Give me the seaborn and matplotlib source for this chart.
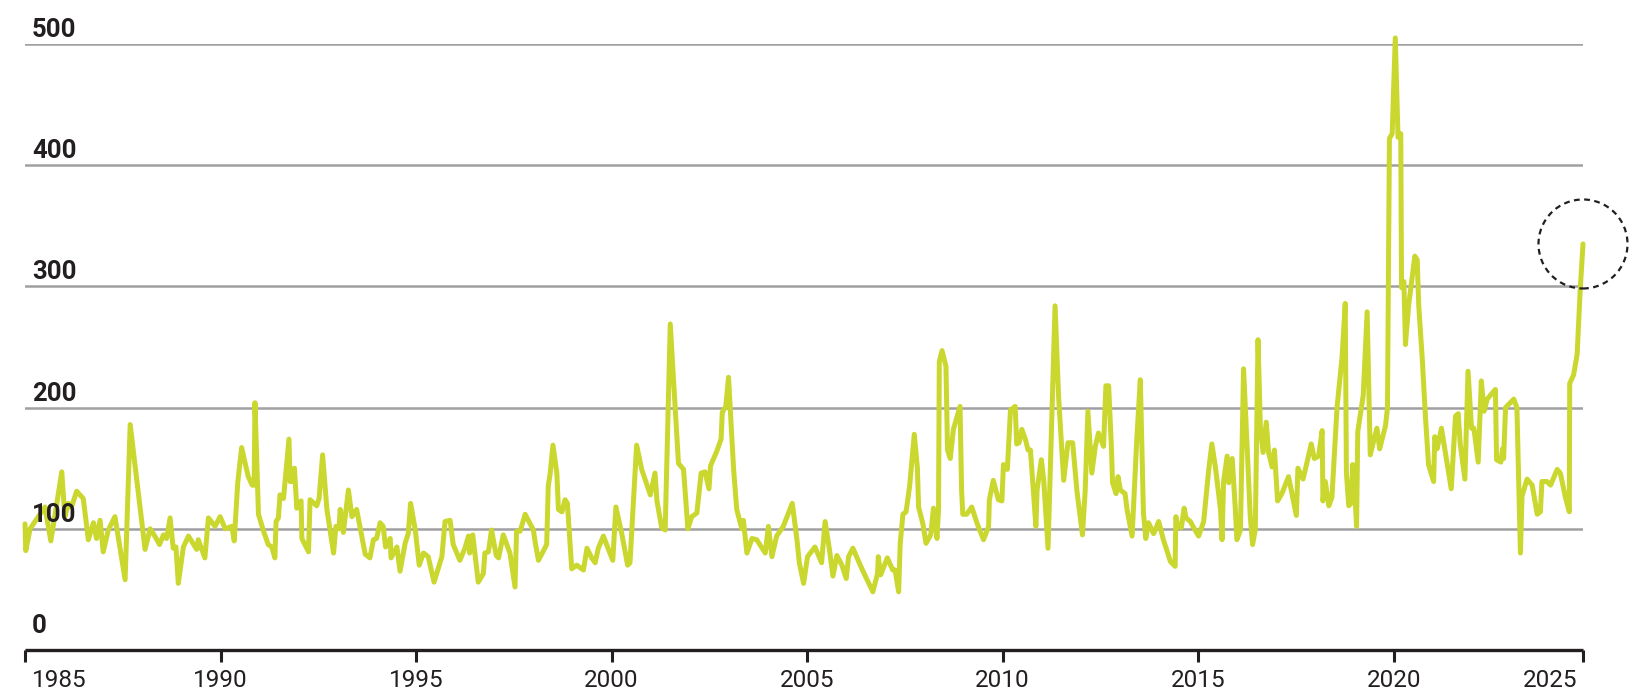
import matplotlib
matplotlib.use("Agg")
import matplotlib.pyplot as plt
from matplotlib.patches import Circle
from matplotlib.transforms import ScaledTranslation
import numpy as np
import pandas as pd
import seaborn as sns

# values, (decimal year, value) at visible vertices
t_85 = [1985.00, 1985.02, 1985.13, 1985.51, 1985.66, 1985.77, 1985.94, 1986.02, 1986.11, 1986.19,
        1986.32, 1986.49, 1986.62, 1986.75, 1986.83, 1986.92, 1987.00, 1987.13, 1987.30, 1987.56,
        1987.69, 1988.07, 1988.20, 1988.32, 1988.44, 1988.54, 1988.62, 1988.71, 1988.79, 1988.86,
        1988.92, 1989.05, 1989.18, 1989.39, 1989.43, 1989.60, 1989.69, 1989.86]
v_85 = [104, 82, 100, 118, 90, 112, 147, 110, 121, 118,
        131, 125, 91, 105, 92, 107, 81, 99, 110, 58,
        186, 83, 100, 94, 87, 95, 92, 109, 84, 85,
        55, 85, 94, 83, 91, 76, 109, 102]

t_90 = [1989.99, 1990.12, 1990.29, 1990.35, 1990.44, 1990.54, 1990.63, 1990.71, 1990.81, 1990.86,
        1990.88, 1990.97, 1991.10, 1991.22, 1991.31, 1991.39, 1991.42, 1991.48, 1991.52, 1991.61,
        1991.75, 1991.78, 1991.84, 1991.89, 1991.95, 1992.06, 1992.08, 1992.25, 1992.29, 1992.46,
        1992.52, 1992.61, 1992.72, 1992.89, 1992.95, 1993.03, 1993.06, 1993.14, 1993.27, 1993.36,
        1993.48, 1993.70, 1993.82, 1993.91, 1993.99, 1994.08, 1994.16, 1994.22, 1994.34, 1994.36,
        1994.51, 1994.59, 1994.72, 1994.80, 1994.86]
v_90 = [110, 100, 102, 90, 138, 167, 154, 143, 136, 136,
        204, 112, 98, 87, 85, 76, 106, 109, 128, 125,
        174, 139, 139, 150, 117, 123, 92, 81, 124, 119,
        125, 161, 116, 80, 102, 100, 116, 97, 132, 110,
        116, 79, 76, 91, 92, 105, 102, 85, 92, 76,
        85, 65, 88, 96, 121]

t_95 = [1994.98, 1995.08, 1995.19, 1995.31, 1995.46, 1995.66, 1995.74, 1995.87, 1995.95, 1996.12,
        1996.25, 1996.34, 1996.37, 1996.45, 1996.59, 1996.72, 1996.76, 1996.85, 1996.93, 1997.05,
        1997.11, 1997.23, 1997.40, 1997.53, 1997.57, 1997.66, 1997.79, 1998.00, 1998.04, 1998.13,
        1998.34, 1998.38, 1998.43, 1998.50, 1998.60, 1998.64, 1998.73, 1998.81, 1998.87, 1998.98,
        1999.11, 1999.15, 1999.28, 1999.37, 1999.49, 1999.58, 1999.66, 1999.79, 1999.92, 2000.03]
v_95 = [99, 70, 80, 77, 56, 77, 106, 107, 87, 74,
        84, 94, 80, 95, 56, 63, 80, 81, 99, 78,
        76, 95, 80, 52, 98, 98, 112, 99, 90, 74,
        87, 135, 146, 169, 146, 116, 114, 124, 121, 67,
        70, 69, 66, 84, 76, 72, 84, 94, 83, 74]

t_00 = [2000.11, 2000.26, 2000.41, 2000.47, 2000.64, 2000.77, 2000.99, 2001.11, 2001.16, 2001.28,
        2001.37, 2001.50, 2001.71, 2001.84, 2001.95, 2002.05, 2002.18, 2002.29, 2002.39, 2002.49,
        2002.53, 2002.69, 2002.80, 2002.83, 2002.92, 2002.99, 2003.12, 2003.20, 2003.33, 2003.37,
        2003.46, 2003.59, 2003.71, 2003.93, 2004.01, 2004.10, 2004.22, 2004.39, 2004.62, 2004.74,
        2004.80]
v_00 = [118, 96, 70, 72, 169, 149, 128, 146, 123, 101,
        99, 269, 154, 149, 100, 110, 113, 146, 147, 133,
        152, 164, 174, 196, 201, 225, 149, 116, 100, 107,
        80, 92, 91, 80, 102, 77, 94, 102, 121, 91,
        72]

t_05 = [2004.91, 2005.01, 2005.20, 2005.37, 2005.46, 2005.57, 2005.66, 2005.76, 2005.89, 2006.00,
        2006.06, 2006.17, 2006.40, 2006.68, 2006.80, 2006.82, 2006.88, 2007.05, 2007.19, 2007.25,
        2007.34, 2007.38, 2007.45, 2007.53, 2007.62, 2007.74, 2007.82, 2007.85, 2007.96, 2008.04,
        2008.16, 2008.23, 2008.32, 2008.36, 2008.38, 2008.45, 2008.55, 2008.59, 2008.66, 2008.74,
        2008.91, 2008.95, 2008.98, 2009.08, 2009.21, 2009.34, 2009.51, 2009.64, 2009.66, 2009.76,
        2009.89, 2009.98]
v_05 = [55, 77, 85, 72, 106, 83, 61, 78, 70, 59,
        77, 84, 67, 48, 63, 77, 62, 76, 66, 66,
        48, 88, 112, 114, 135, 178, 150, 118, 104, 88,
        95, 117, 92, 116, 238, 247, 234, 165, 158, 182,
        201, 132, 112, 112, 118, 105, 91, 102, 124, 140,
        124, 123]

t_10 = [2010.02, 2010.12, 2010.20, 2010.32, 2010.36, 2010.42, 2010.49, 2010.58, 2010.65, 2010.71,
        2010.79, 2010.85, 2010.88, 2010.99, 2011.05, 2011.16, 2011.34, 2011.43, 2011.56,
        2011.67, 2011.79, 2011.90, 2012.04, 2012.11, 2012.18, 2012.28, 2012.37, 2012.45, 2012.58,
        2012.64, 2012.71, 2012.78, 2012.81, 2012.90, 2012.95, 2013.01, 2013.13, 2013.18, 2013.31,
        2013.43, 2013.52, 2013.60, 2013.66, 2013.73, 2013.86, 2013.99, 2014.11, 2014.29, 2014.41,
        2014.43, 2014.48, 2014.57, 2014.64, 2014.69, 2014.80, 2014.92, 2015.01]
v_10 = [153, 149, 198, 201, 170, 171, 182, 174, 165, 165,
        129, 102, 132, 157, 140, 84, 284, 209, 140,
        171, 171, 131, 95, 131, 197, 146, 168, 179, 168,
        218, 218, 168, 138, 129, 143, 132, 129, 116, 94,
        174, 223, 113, 92, 105, 96, 106, 91, 73, 69,
        110, 102, 101, 117, 109, 106, 99, 94]

t_15 = [2015.14, 2015.27, 2015.35, 2015.44, 2015.57, 2015.61, 2015.65, 2015.74, 2015.78, 2015.87,
        2015.95, 2015.99, 2016.08, 2016.16, 2016.21, 2016.33, 2016.39, 2016.46, 2016.53, 2016.59,
        2016.66, 2016.74, 2016.80, 2016.89, 2016.95, 2017.03, 2017.14, 2017.31, 2017.51, 2017.55,
        2017.68, 2017.77, 2017.89, 2017.97, 2018.08, 2018.17, 2018.19, 2018.25, 2018.34, 2018.42,
        2018.55, 2018.68, 2018.76, 2018.79, 2018.85, 2018.91, 2018.95, 2019.00, 2019.05, 2019.08,
        2019.22, 2019.32, 2019.40, 2019.49, 2019.57, 2019.64, 2019.79, 2019.84]
v_15 = [106, 149, 170, 151, 116, 91, 139, 160, 138, 158,
        116, 91, 99, 232, 197, 111, 87, 99, 256, 183,
        163, 188, 163, 151, 165, 123, 129, 143, 111, 150,
        141, 153, 170, 158, 160, 181, 123, 139, 119, 126,
        200, 242, 286, 146, 119, 121, 153, 134, 102, 180,
        210, 279, 161, 173, 183, 166, 185, 200]

t_20 = [2019.89, 2019.96, 2020.04, 2020.11, 2020.18, 2020.20, 2020.26, 2020.30, 2020.38, 2020.54,
        2020.60, 2020.64, 2020.73, 2020.81, 2020.89, 2021.02, 2021.05, 2021.11, 2021.22, 2021.32,
        2021.47, 2021.58, 2021.65, 2021.70, 2021.82, 2021.90, 2021.99, 2022.05, 2022.16, 2022.24,
        2022.31, 2022.39, 2022.60, 2022.63, 2022.74, 2022.78, 2022.81, 2022.86, 2022.98, 2023.07,
        2023.15, 2023.20, 2023.24, 2023.28, 2023.41, 2023.54, 2023.67, 2023.75, 2023.79, 2023.92,
        2024.01, 2024.18, 2024.26, 2024.39, 2024.49, 2024.50, 2024.60, 2024.69, 2024.77, 2024.84]
v_20 = [422, 426, 505, 423, 426, 299, 304, 252, 284, 325,
        322, 284, 240, 193, 153, 139, 176, 166, 183, 163,
        133, 193, 195, 170, 141, 230, 183, 183, 155, 222,
        197, 207, 215, 157, 155, 166, 158, 200, 204, 207,
        200, 133, 80, 127, 141, 136, 112, 114, 139, 139,
        136, 149, 146, 126, 114, 220, 227, 244, 298, 335]

year_ticks = [1985, 1990, 1995, 2000, 2005, 2010, 2015, 2020]
last_label = "2025"
y_ticks = [0, 100, 200, 300, 400, 500]

df = pd.DataFrame({
    "year": np.concatenate([t_85, t_90, t_95, t_00, t_05, t_10, t_15, t_20]),
    "value": np.concatenate([v_85, v_90, v_95, v_00, v_05, v_10, v_15, v_20]),
})

sns.set_theme(style="white")
plt.rcParams["font.family"] = ["Roboto", "DejaVu Sans"]

W, H = 1647, 692
fig = plt.figure(figsize=(W / 100, H / 100), dpi=100)
ax = fig.add_axes([25 / W, 42 / H, 1558 / W, 606 / H])

# grid lines
for v in y_ticks[1:]:
    ax.axhline(v, color="#a0a0a2", lw=1.8, zorder=1)

sns.lineplot(data=df, x="year", y="value", ax=ax, color="#cad72e", lw=3.6,
             sort=False, estimator=None, zorder=3)
line = ax.lines[-1]
line.set_clip_on(False)
line.set_solid_joinstyle("round")
line.set_solid_capstyle("round")

x_end = df["year"].iloc[-1]
ax.set_xlim(df["year"].iloc[0], x_end)
ax.set_ylim(0, 500)
ax.set_xlabel("")
ax.set_ylabel("")

# y labels sit above the grid lines
ax.set_yticks([])
for v in y_ticks:
    dy = 12.5 if v == 0 else 5
    ax.annotate(str(v), xy=(0, v), xycoords=ax.get_yaxis_transform(),
                xytext=(5, dy), textcoords="offset points",
                ha="left", va="baseline", fontsize=18.5, fontweight="bold",
                color="#231f20", zorder=5)

# x axis
ax.set_xticks(year_ticks + [x_end])
ax.set_xticklabels([str(y) for y in year_ticks] + [last_label])
ax.tick_params(axis="x", bottom=True, direction="out", length=8.5, width=2.2,
               color="#231f20", pad=5, labelsize=17.5, labelcolor="#231f20")
labels = ax.get_xticklabels()
labels[0].set_horizontalalignment("left")
labels[0].set_transform(labels[0].get_transform() + ScaledTranslation(5 / 72, 0, fig.dpi_scale_trans))
labels[-1].set_horizontalalignment("right")
labels[-1].set_transform(labels[-1].get_transform() + ScaledTranslation(-4 / 72, 0, fig.dpi_scale_trans))

for side in ["left", "top", "right"]:
    ax.spines[side].set_visible(False)
ax.spines["bottom"].set_color("#231f20")
ax.spines["bottom"].set_linewidth(2.4)
ax.spines["bottom"].set_capstyle("butt")

# dashed circle round the latest value
y_end = df["value"].iloc[-1]
circ = Circle((0, 0), 0.445, fill=False, ec="#231f20", lw=1.6, ls=(0, (2.6, 2.0)),
              transform=fig.dpi_scale_trans + ScaledTranslation(x_end, y_end, ax.transData),
              clip_on=False, zorder=4)
ax.add_patch(circ)

fig.savefig("out.png", dpi=100)
plt.close(fig)
